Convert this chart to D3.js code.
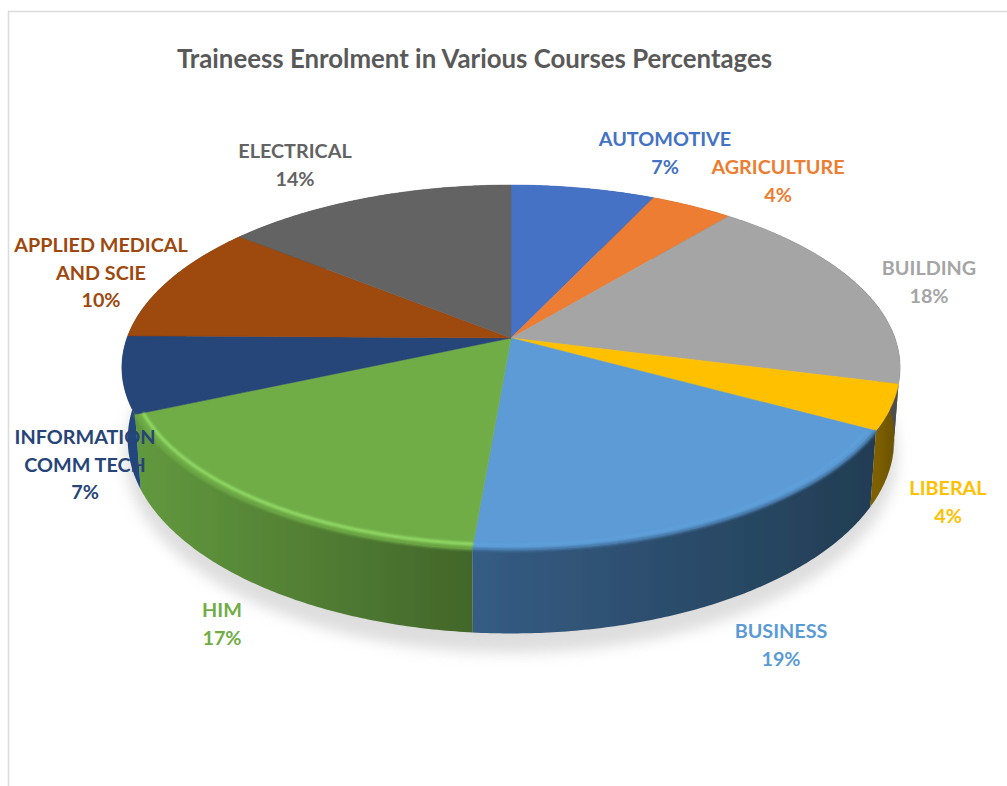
<!DOCTYPE html>
<html lang="en">

<head>
  <meta charset="UTF-8">
  <title>Traineess Enrolment in Various Courses Percentages</title>
  <script src="https://cdnjs.cloudflare.com/ajax/libs/d3/7.8.5/d3.min.js"></script>
  <style>
    html, body { margin: 0; padding: 0; background: #fff; }
    svg { display: block; }
    text { font-family: Lato, "Open Sans", sans-serif; font-weight: 700; text-anchor: middle; }
    .title { font-size: 25.8px; fill: #595959; }
    .label { font-size: 19.8px; }
  </style>
</head>

<body>
  <div id="chart"></div>
  <script>
    // slices, clockwise from 12 o'clock. sliceShares are read off the drawn angles,
    // the printed percentages are what the chart labels say
    const categories = ["AUTOMOTIVE", "AGRICULTURE", "BUILDING", "LIBERAL", "BUSINESS", "HIM",
      "INFORMATION COMM TECH", "APPLIED MEDICAL AND SCIE", "ELECTRICAL"];
    const sliceShares = [7, 4, 18, 4, 18.35, 17.05, 6.8, 10.6, 14.2];
    const printedPercents = [7, 4, 18, 4, 19, 17, 7, 10, 14];
    const chartTitle = "Traineess Enrolment in Various Courses Percentages";

    const colors = ["#4472c4", "#ed7d31", "#a5a5a5", "#ffc000", "#5b9bd5", "#70ad47", "#264478", "#9e480e", "#636363"];
    const wallLeft = ["#294477", "#8e4b1d", "#55555a", "#7f6000", "#355c84", "#62993e", "#24467c", "#5f2b08", "#3b3b3b"];
    const wallRight = ["#294477", "#8e4b1d", "#4d4d50", "#665000", "#223d53", "#42662a", "#24467c", "#5f2b08", "#3b3b3b"];
    const rimColors = [null, null, null, null, "#66a8e3", "#93dc68", null, null, null];

    // where each label block is centred, and the first baseline
    const labelX = [665, 778, 929, 948, 781, 222, 85, 101, 295];
    const labelY = [146, 174, 275, 495, 638, 617, 444, 252, 158];
    const lineBreaks = { "INFORMATION COMM TECH": ["INFORMATION", "COMM TECH"], "APPLIED MEDICAL AND SCIE": ["APPLIED MEDICAL", "AND SCIE"] };

    const width = 1007;
    const height = 786;
    const cx = 511, cy = 338;    // apex of the pie as drawn
    const a = 384, b = 177.7;    // plane radii before perspective
    const k = 0.1616;            // perspective strength
    const depth = 70;            // thickness of the disc

    // unit disc -> screen, near edge gets bigger
    function project(theta, r, h) {
      const X = r * Math.sin(theta);
      const Y = -r * Math.cos(theta);
      const d = 1 - k * Y;
      const shrink = 1 - 0.015 * h / depth;
      return [cx + a * X / d * shrink, cy + (b * Y + h) / d];
    }

    function arcPoints(start, end, r, h) {
      const n = Math.max(2, Math.ceil((end - start) / 0.01));
      return d3.range(n + 1).map(i => project(start + (end - start) * i / n, r, h));
    }

    const pieLayout = d3.pie().sort(null).value(d => d);
    const slices = pieLayout(sliceShares);
    const line = d3.line();

    const svg = d3.select("#chart")
      .append("svg")
      .attr("width", width)
      .attr("height", height);

    const defs = svg.append("defs");
    defs.append("filter").attr("id", "shadowBlur")
      .attr("x", "-10%").attr("y", "-10%").attr("width", "120%").attr("height", "120%")
      .append("feGaussianBlur").attr("stdDeviation", 7);
    defs.append("filter").attr("id", "soft")
      .attr("x", "-5%").attr("y", "-5%").attr("width", "110%").attr("height", "110%")
      .append("feGaussianBlur").attr("stdDeviation", 0.7);
    defs.append("filter").attr("id", "rimBlur")
      .attr("x", "-5%").attr("y", "-5%").attr("width", "110%").attr("height", "110%")
      .append("feGaussianBlur").attr("stdDeviation", 1.3);

    // chart frame, runs off the right and bottom of the picture
    svg.append("path")
      .attr("d", `M8.5,${height}V11.5H${width}`)
      .attr("fill", "none")
      .attr("stroke", "#dcdcdc")
      .attr("stroke-width", 1.5);

    svg.append("text")
      .attr("class", "title")
      .attr("x", 474.5)
      .attr("y", 68)
      .text(chartTitle);

    // soft shadow under the disc
    svg.append("path")
      .attr("d", line(arcPoints(0, 2 * Math.PI, 1.01, depth + 14)) + "Z")
      .attr("fill", "#c8c8c8")
      .attr("opacity", 0.6)
      .attr("filter", "url(#shadowBlur)");

    const pie = svg.append("g").attr("filter", "url(#soft)");

    // side walls, far ones first, top faces cover whatever sticks out behind them
    const wallOrder = slices.slice().sort((p, q) =>
      -Math.cos((p.startAngle + p.endAngle) / 2) + Math.cos((q.startAngle + q.endAngle) / 2)).reverse();

    wallOrder.forEach(s => {
      const top = arcPoints(s.startAngle, s.endAngle, 1, 0);
      const bottom = arcPoints(s.startAngle, s.endAngle, 1, depth).reverse();
      const xs = top.map(p => p[0]);
      const gradId = "wall" + s.index;
      const grad = defs.append("linearGradient")
        .attr("id", gradId)
        .attr("gradientUnits", "userSpaceOnUse")
        .attr("x1", d3.min(xs)).attr("x2", d3.max(xs))
        .attr("y1", 0).attr("y2", 0);
      grad.append("stop").attr("offset", 0).attr("stop-color", wallLeft[s.index]);
      grad.append("stop").attr("offset", 1).attr("stop-color", wallRight[s.index]);
      pie.append("path")
        .attr("d", line(top.concat(bottom)) + "Z")
        .attr("fill", `url(#${gradId})`);
    });

    // top faces
    pie.selectAll(".face")
      .data(slices)
      .join("path")
      .attr("class", "face")
      .attr("fill", d => colors[d.index])
      .attr("stroke", d => colors[d.index])
      .attr("stroke-width", 0.5)
      .attr("d", d => line([[cx, cy]].concat(arcPoints(d.startAngle, d.endAngle, 1, 0))) + "Z");

    // bevel: face melts into the wall colour, with a highlight just inside the near rim
    const bevelled = slices.filter(d => rimColors[d.index]);

    pie.selectAll(".edge")
      .data(bevelled)
      .join("path")
      .attr("class", "edge")
      .attr("fill", "none")
      .attr("stroke", d => d3.interpolateRgb(colors[d.index], wallLeft[d.index])(0.6))
      .attr("stroke-width", 3)
      .attr("filter", "url(#rimBlur)")
      .attr("d", d => line(arcPoints(d.startAngle, d.endAngle, 1, 0)));

    pie.selectAll(".rim")
      .data(bevelled)
      .join("path")
      .attr("class", "rim")
      .attr("fill", "none")
      .attr("stroke", d => rimColors[d.index])
      .attr("stroke-width", 3)
      .attr("opacity", d => d.index === 5 ? 1 : 0.35)
      .attr("filter", "url(#rimBlur)")
      .attr("d", d => line(arcPoints(d.startAngle, d.endAngle, 0.98, 0)));

    // data labels, on top of everything
    const labels = svg.selectAll(".label")
      .data(categories)
      .join("text")
      .attr("class", "label")
      .attr("fill", (d, i) => colors[i]);

    labels.each(function (d, i) {
      const lines = (lineBreaks[d] || [d]).concat(printedPercents[i] + "%");
      d3.select(this).selectAll("tspan")
        .data(lines)
        .join("tspan")
        .attr("x", labelX[i])
        .attr("y", (t, j) => labelY[i] + j * 27.7)
        .text(t => t);
    });
  </script>
</body>

</html>
